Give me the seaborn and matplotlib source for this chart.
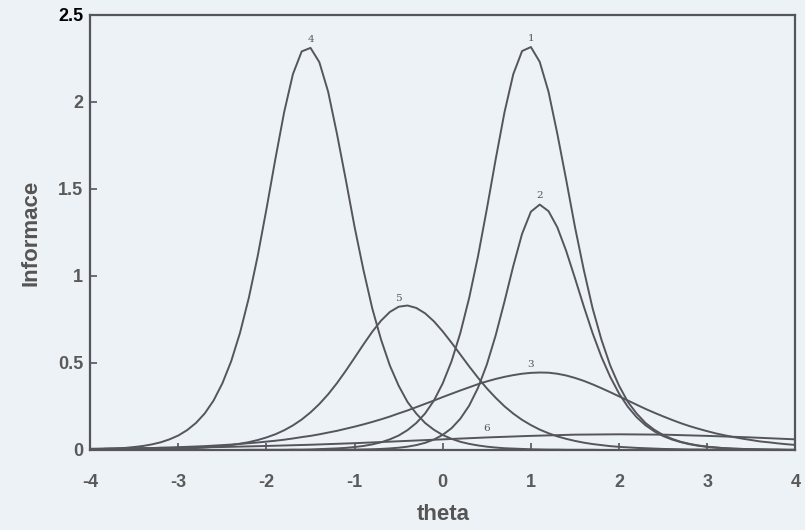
import numpy as np
import pandas as pd
import matplotlib
matplotlib.use("Agg")
import matplotlib.pyplot as plt
import seaborn as sns

# ability grid (theta) for items 1-5, coarse grid for item 6
theta = np.round(np.linspace(-4, 4, 81), 1)
theta_6 = np.round(np.linspace(-4, 4, 17), 1)

# item information
info_1 = [0, 0, 0, 0, 0, 0, 0, 0, 0, 0, 0, 0, 0, 0, 0, 0, 0, 0,
          .001, .001, .001, .001, .001, .002, .002,
          .003, .005, .007, .009, .012, .017, .023, .032, .044, .061,
          .083, .114, .155, .210, .284, .383, .510, .673, .874, 1.113,
          1.384, 1.669, 1.939, 2.159, 2.292, 2.315, 2.230, 2.058, 1.816, 1.553,
          1.281, 1.035, .814, .634, .485, .369, .276, .209, .155, .116,
          .086, .064, .047, .035, .026, .019, .014, .010, .008, .006,
          .004, .003, .002, .002, .001, .001]
info_2 = [0] * 25 + [
          .000, .000, .001, .001, .001, .002, .003, .004, .006, .009,
          .013, .019, .028, .041, .060, .087, .125, .180, .255, .357,
          .491, .658, .852, 1.057, 1.242, 1.369, 1.410, 1.372, 1.279, 1.144,
          .987, .825, .671, .535, .420, .324, .248, .188, .142, .107,
          .080, .060, .045, .033, .024, .018, .014, .010, .007, .006,
          .004, .003, .002, .002, .001, .001]
info_3 = [.005, .006, .007, .007, .008, .009, .010, .011, .013, .014,
          .016, .018, .020, .022, .025, .028, .031, .035, .039, .043,
          .048, .053, .059, .066, .074, .081, .090, .100, .110, .122,
          .134, .147, .161, .176, .192, .210, .227, .246, .265, .284,
          .304, .323, .342, .360, .378, .394, .408, .420, .430, .438,
          .443, .445, .444, .438, .428, .414, .397, .377, .355, .332,
          .308, .284, .260, .236, .214, .193, .173, .154, .137, .122,
          .108, .095, .084, .074, .065, .057, .049, .044, .038, .033,
          .029]
info_4 = [.003, .005, .007, .009, .012, .017, .023, .032, .044, .061,
          .083, .114, .155, .210, .284, .383, .510, .673, .874, 1.113,
          1.384, 1.669, 1.939, 2.159, 2.290, 2.310, 2.228, 2.058, 1.816, 1.553,
          1.281, 1.035, .814, .634, .485, .369, .276, .209, .155, .116,
          .086, .064, .047, .035, .026, .019, .014, .010, .008, .006,
          .004, .003, .002, .002, .001, .001, .001, .001] + [0] * 23
info_5 = [.001, .001, .001, .001, .002, .002, .003, .003, .004, .005,
          .007, .009, .011, .014, .018, .022, .028, .036, .045, .057,
          .072, .090, .113, .141, .175, .216, .264, .320, .384, .455,
          .530, .606, .679, .743, .793, .823, .830, .816, .785, .739,
          .681, .616, .548, .480, .415, .354, .300, .251, .209, .173,
          .143, .117, .096, .078, .064, .052, .042, .034, .028, .022,
          .018, .015, .012, .010, .008, .006, .005, .004, .003, .003,
          .002, .002, .002, .001, .001, .001, .001, .001, .000, .000,
          .000]
info_6 = [.007, .010, .013, .017, .023, .030, .039, .050, .061,
          .072, .081, .088, .090, .088, .081, .072, .061]

items = ["1", "2", "3", "4", "5", "6"]
x_ticks = [-4, -3, -2, -1, 0, 1, 2, 3, 4]
y_ticks = [0, 0.5, 1, 1.5, 2, 2.5]
y_tick_labels = ["0", "0.5", "1", "1.5", "2", "2.5"]

frames = []
for name, vals in zip(items[:5], [info_1, info_2, info_3, info_4, info_5]):
    frames.append(pd.DataFrame({"theta": theta, "info": vals, "item": name}))
frames.append(pd.DataFrame({"theta": theta_6, "info": info_6, "item": "6"}))
df = pd.concat(frames, ignore_index=True)

sns.set_style("ticks")
plt.rcParams["font.family"] = ["Liberation Sans", "DejaVu Sans"]
plt.rcParams["axes.unicode_minus"] = False

bg = "#edf2f6"
ink = "#55555d"

fig, ax = plt.subplots(figsize=(8.05, 5.3), dpi=100)
fig.patch.set_facecolor(bg)
ax.set_facecolor(bg)
fig.subplots_adjust(left=0.112, right=0.988, bottom=0.151, top=0.972)

for name in items:
    sub = df[df["item"] == name]
    sns.lineplot(data=sub, x="theta", y="info", ax=ax, color=ink,
                 linewidth=1.4, estimator=None, legend=False)

# small item numbers above the curves
label_x = {"1": None, "2": None, "3": 1.0, "4": None, "5": -0.47, "6": 0.55}
for name in items:
    sub = df[df["item"] == name].reset_index(drop=True)
    if label_x[name] is None:
        i = sub["info"].idxmax()
    else:
        i = (sub["theta"] - label_x[name]).abs().idxmin()
    ax.annotate(name, (sub.loc[i, "theta"], sub.loc[i, "info"]),
                xytext=(0, 3), textcoords="offset points", ha="center",
                va="bottom", fontsize=7.5, family="DejaVu Serif", color=ink)

ax.set_xlim(-4, 4)
ax.set_ylim(0, 2.5)
ax.set_xticks(x_ticks)
ax.set_xticklabels([str(t) for t in x_ticks])
ax.set_yticks(y_ticks)
ax.set_yticklabels(y_tick_labels)
ax.tick_params(direction="in", length=5, width=1.2, color=ink, labelsize=13,
               labelcolor="#5a5a5a")
ax.tick_params(axis="x", pad=17)
ax.tick_params(axis="y", pad=5)
for lab in ax.get_xticklabels() + ax.get_yticklabels():
    lab.set_fontweight("bold")
ax.get_yticklabels()[-1].set_color("black")

for side in ["left", "right", "top", "bottom"]:
    ax.spines[side].set_visible(True)
    ax.spines[side].set_color(ink)
    ax.spines[side].set_linewidth(1.6)

ax.set_xlabel("theta", fontsize=16, fontweight="bold", color="#555555", labelpad=10)
ax.set_ylabel("Informace", fontsize=16, fontweight="bold", color="#555555", labelpad=12)

fig.savefig("out.png", dpi=100, facecolor=bg)
